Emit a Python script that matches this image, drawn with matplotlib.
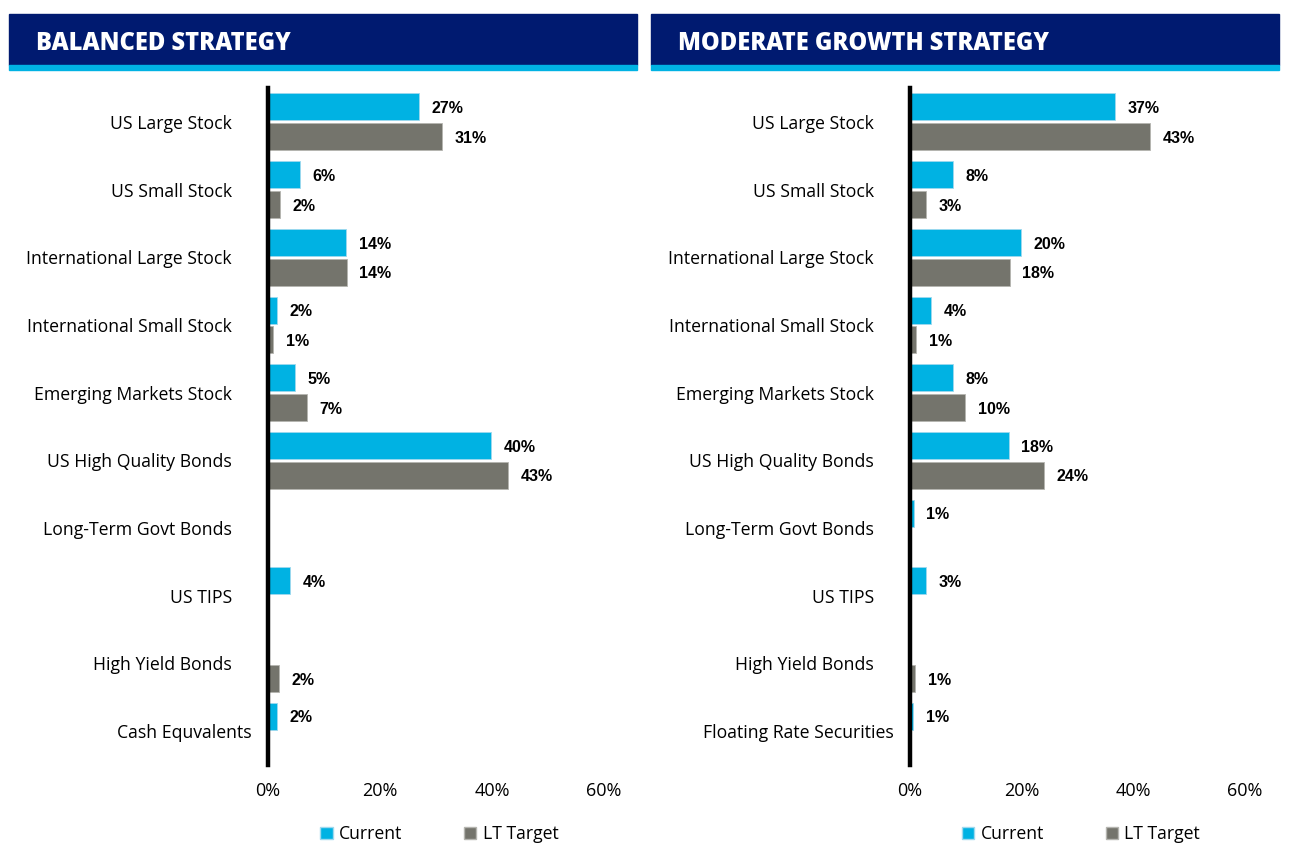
import matplotlib
matplotlib.use("Agg")
import matplotlib.pyplot as plt
import matplotlib.patches as patches
import numpy as np

# data
titles = ["BALANCED STRATEGY", "MODERATE GROWTH STRATEGY"]

categories_bal = ["US Large Stock", "US Small Stock", "International Large Stock",
                  "International Small Stock", "Emerging Markets Stock",
                  "US High Quality Bonds", "Long-Term Govt Bonds", "US TIPS",
                  "High Yield Bonds", "Cash Equvalents"]
current_bal = [27.0, 5.7, 14.0, 1.6, 4.8, 39.8, 0, 3.9, 0, 1.6]
target_bal = [31.0, 2.1, 14.1, 0.9, 7.0, 42.9, 0, 0, 2.0, 0]

categories_mod = ["US Large Stock", "US Small Stock", "International Large Stock",
                  "International Small Stock", "Emerging Markets Stock",
                  "US High Quality Bonds", "Long-Term Govt Bonds", "US TIPS",
                  "High Yield Bonds", "Floating Rate Securities"]
current_mod = [36.7, 7.7, 19.9, 3.8, 7.7, 17.7, 0.7, 2.9, 0, 0.6]
target_mod = [43.0, 2.9, 17.9, 1.1, 9.9, 24.0, 0, 0, 0.9, 0]

xticks = [0, 20, 40, 60]
xtick_labels = ["0%", "20%", "40%", "60%"]
series_names = ["Current", "LT Target"]

NAVY = "#001A70"
CYAN = "#00B2E3"
GRAY = "#74746C"

W, H = 1293, 864
fig = plt.figure(figsize=(W / 100, H / 100), dpi=100)

cat_font = "Open Sans"
num_font = "Liberation Sans"


def draw_panel(x_hdr, hdr_w, ax_left, ax_right, title, cats, cur, tgt):
    # header bar
    fig.patches.append(patches.Rectangle((x_hdr / W, 1 - 65 / H), hdr_w / W, 51 / H,
                                         transform=fig.transFigure, color=NAVY, zorder=0))
    fig.patches.append(patches.Rectangle((x_hdr / W, 1 - 70 / H), hdr_w / W, 5 / H,
                                         transform=fig.transFigure, color=CYAN, zorder=0))
    fig.text((x_hdr + 27) / W, 1 - 43 / H, title, color="white", fontsize=17,
             fontweight="heavy", family="Open Sans", va="center", ha="left")

    ax = fig.add_axes([ax_left / W, 1 - 765 / H, (ax_right - ax_left) / W, 677 / H])
    y = np.arange(len(cats))
    off = 0.22
    h = 0.4
    ax.barh(y - off, cur, height=h, color=CYAN, edgecolor="#9fd9ee", linewidth=0.6)
    ax.barh(y + off, tgt, height=h, color=GRAY, edgecolor="#b5b5b0", linewidth=0.6)
    for i in range(len(cats)):
        for v, yy in ((cur[i], y[i] - off), (tgt[i], y[i] + off)):
            if v > 0:
                ax.annotate(f"{v:.0f}%", (v, yy), xytext=(9, -1.2), textcoords="offset points",
                            va="center", ha="left", fontsize=11.5, fontweight="bold",
                            family=num_font, color="black")
    ax.set_xlim(0, 60)
    ax.set_ylim(len(cats) - 0.5, -0.5)
    ax.set_yticks(y)
    ax.set_yticklabels(cats, fontsize=12.7, family=cat_font)
    ax.set_xticks(xticks)
    ax.set_xticklabels(xtick_labels, fontsize=13, family=cat_font)
    ax.tick_params(axis="both", length=0)
    ax.tick_params(axis="x", pad=12)
    ax.tick_params(axis="y", pad=26)
    ax.yaxis.get_major_ticks()[-1].set_pad(12)
    for s in ("top", "right", "bottom"):
        ax.spines[s].set_visible(False)
    ax.spines["left"].set_linewidth(3.2)
    ax.spines["left"].set_color("black")
    ax.set_zorder(2)

    handles = [patches.Patch(facecolor=CYAN, edgecolor="#9fd9ee", label=series_names[0]),
               patches.Patch(facecolor=GRAY, edgecolor="#b5b5b0", label=series_names[1])]
    ax.legend(handles=handles, ncol=2, loc="center",
              bbox_to_anchor=(0.51, -0.102), frameon=False,
              handlelength=0.7, handleheight=0.7, handletextpad=0.35,
              columnspacing=3.5, prop={"family": cat_font, "size": 12.7})
    return ax


draw_panel(9, 628, 268, 604, titles[0], categories_bal, current_bal, target_bal)
draw_panel(651, 628, 910, 1245, titles[1], categories_mod, current_mod, target_mod)

fig.savefig("out.png", dpi=100, facecolor="white")
